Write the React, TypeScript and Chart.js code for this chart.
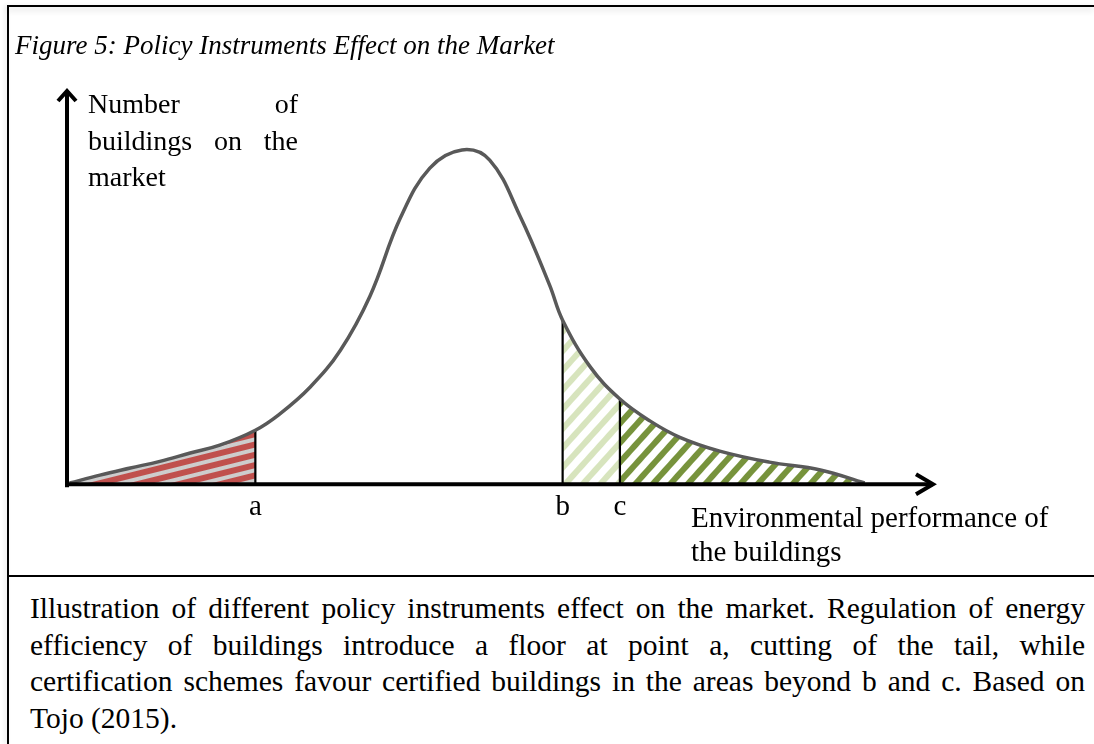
import React, { useEffect, useRef } from "react";
import { Chart, registerables } from "chart.js";

Chart.register(...registerables);

// ---- Data ----
// x: environmental performance (0..100 along the axis), y: number of buildings (0..100)
const curveX = [0.3, 3.8, 7.3, 10.7, 14.2, 17.6, 21.7, 24.5, 28.0, 31.5, 34.9, 38.4, 41.8, 45.5, 48.7, 52.2, 55.6, 57.1, 60.3, 63.7, 67.2, 70.6, 75.2, 80.9, 86.8, 91.9];
const curveY = [0.3, 2.3, 4.1, 5.8, 7.9, 9.9, 13.7, 17.8, 24.6, 34.0, 47.7, 67.5, 80.2, 84.8, 82.2, 68.0, 50.5, 41.6, 29.7, 21.6, 16.0, 11.9, 8.4, 5.6, 3.6, 0.3];

// thresholds a, b, c (index into the curve arrays)
const markerLabels = ["a", "b", "c"];
const markerIndex = [6, 17, 19];

const titleText = "Figure 5: Policy Instruments Effect on the Market";
const yLabelLines = ["Number of", "buildings on the", "market"];
const xLabelLines = ["Environmental performance of", "the buildings"];
const captionLines = [
  "Illustration of different policy instruments effect on the market. Regulation of energy",
  "efficiency of buildings introduce a floor at point a, cutting of the tail, while",
  "certification schemes favour certified buildings in the areas beyond b and c. Based on",
  "Tojo (2015).",
];

const SERIF = "'Liberation Serif', 'DejaVu Serif', serif";

function makeStripePattern(
  ctx: CanvasRenderingContext2D,
  stripe: string,
  bg: string,
  period: number,
  band: number,
  angle: number
): CanvasPattern | string {
  const tile = document.createElement("canvas");
  tile.width = 16;
  tile.height = period;
  const t = tile.getContext("2d")!;
  t.fillStyle = bg;
  t.fillRect(0, 0, tile.width, tile.height);
  t.fillStyle = stripe;
  t.fillRect(0, 0, tile.width, band);
  const p = ctx.createPattern(tile, "repeat");
  if (!p) return stripe;
  p.setTransform(new DOMMatrix().rotate(angle));
  return p;
}

const arrowPlugin = {
  id: "axisArrows",
  afterDatasetsDraw(chart: any) {
    const { ctx, chartArea, scales } = chart;
    const x0 = scales.x.getPixelForValue(0);
    const y0 = scales.y.getPixelForValue(0);
    ctx.save();
    ctx.strokeStyle = "#000";
    ctx.lineWidth = 4;
    ctx.lineJoin = "miter";
    ctx.lineCap = "butt";
    // y axis
    ctx.beginPath();
    ctx.moveTo(x0, y0 + 3);
    ctx.lineTo(x0, chartArea.top + 2);
    ctx.stroke();
    ctx.beginPath();
    ctx.moveTo(x0 - 9, chartArea.top + 11);
    ctx.lineTo(x0, chartArea.top + 1);
    ctx.lineTo(x0 + 9, chartArea.top + 11);
    ctx.stroke();
    // x axis
    ctx.beginPath();
    ctx.moveTo(x0 - 2, y0);
    ctx.lineTo(chartArea.right - 2, y0);
    ctx.stroke();
    ctx.beginPath();
    ctx.moveTo(chartArea.right - 19, y0 - 10);
    ctx.lineTo(chartArea.right - 2, y0);
    ctx.lineTo(chartArea.right - 19, y0 + 10);
    ctx.stroke();
    ctx.restore();
  },
};

function FigureChart() {
  const ref = useRef<HTMLCanvasElement | null>(null);
  useEffect(() => {
    const canvas = ref.current!;
    const ctx = canvas.getContext("2d")!;
    const pts = curveX.map((x, i) => ({ x, y: curveY[i] }));
    const redPat = makeStripePattern(ctx, "#c0504d", "#cdcdcd", 10, 6, -14);
    const lightPat = makeStripePattern(ctx, "#d7e4bd", "#ffffff", 13, 6, -48);
    const darkPat = makeStripePattern(ctx, "#77933c", "#ffffff", 13, 6, -48);

    const regionA = pts.slice(0, markerIndex[0] + 1);
    const regionB = pts.slice(markerIndex[1], markerIndex[2] + 1);
    const regionC = pts.slice(markerIndex[2]);

    const markerSets = markerIndex.map((idx) => ({
      type: "line" as const,
      data: [
        { x: curveX[idx], y: 0 },
        { x: curveX[idx], y: curveY[idx] },
      ],
      borderColor: "#000",
      borderWidth: 2.2,
      pointRadius: 0,
      fill: false,
      order: 1,
    }));

    const region = (data: any[], bg: any) => ({
      type: "line" as const,
      data,
      borderWidth: 0,
      borderColor: "rgba(0,0,0,0)",
      backgroundColor: bg,
      pointRadius: 0,
      fill: "origin",
      tension: 0.4,
      order: 3,
    });

    const chart = new Chart(ctx, {
      type: "line",
      data: {
        datasets: [
          {
            data: pts,
            borderColor: "#595959",
            borderWidth: 3.5,
            pointRadius: 0,
            fill: false,
            tension: 0.4,
            order: 0,
          },
          ...markerSets,
          region(regionA, redPat),
          region(regionB, lightPat),
          region(regionC, darkPat),
        ] as any,
      },
      options: {
        animation: false,
        responsive: false,
        events: [],
        layout: { padding: { left: 67, right: 159, top: 90, bottom: 44 } },
        plugins: { legend: { display: false }, tooltip: { enabled: false } },
        scales: {
          x: {
            type: "linear",
            min: 0,
            max: 100,
            grid: { display: false, drawTicks: false },
            border: { display: false },
            afterBuildTicks: (scale: any) => {
              scale.ticks = markerIndex.map((i) => ({ value: curveX[i] }));
            },
            ticks: {
              autoSkip: false,
              maxRotation: 0,
              padding: 6,
              color: "#000",
              font: { family: SERIF, size: 29 },
              callback: (v: any) => {
                const k = markerIndex.findIndex((i) => curveX[i] === v);
                return k >= 0 ? markerLabels[k] : "";
              },
            },
          },
          y: {
            type: "linear",
            min: 0,
            max: 100,
            display: false,
          },
        },
      },
      plugins: [arrowPlugin],
    });
    return () => chart.destroy();
  }, []);
  return (
    <canvas
      ref={ref}
      width={1094}
      height={575}
      style={{ position: "absolute", left: 0, top: 0, width: 1094, height: 575 }}
    />
  );
}

export default function App() {
  useEffect(() => {
    document.body.style.margin = "0";
  }, []);
  const justified: React.CSSProperties = {
    textAlign: "justify",
    textAlignLast: "justify",
    whiteSpace: "nowrap",
  };
  return (
    <div
      style={{
        position: "relative",
        width: 1094,
        height: 744,
        overflow: "hidden",
        background: "#fff",
        fontFamily: SERIF,
        color: "#000",
      }}
    >
      <FigureChart />
      {/* frame */}
      <div style={{ position: "absolute", left: 7, top: 5, width: 1087, height: 2, background: "#000", boxShadow: "0 3px 6px rgba(0,0,0,0.18)" }} />
      <div style={{ position: "absolute", left: 7, top: 5, width: 2, height: 739, background: "#000", boxShadow: "-2px 0 4px rgba(0,0,0,0.12)" }} />
      <div style={{ position: "absolute", left: 7, top: 575, width: 1087, height: 2, background: "#000" }} />

      <div style={{ position: "absolute", left: 15, top: 28, fontSize: 27, fontStyle: "italic", whiteSpace: "nowrap", lineHeight: "34px" }}>
        {titleText}
      </div>

      <div style={{ position: "absolute", left: 88, top: 86, width: 210, fontSize: 28, lineHeight: "36.5px" }}>
        {yLabelLines.map((l, i) => (
          <div key={i} style={i < yLabelLines.length - 1 ? justified : { whiteSpace: "nowrap" }}>
            {l}
          </div>
        ))}
      </div>

      <div style={{ position: "absolute", left: 691, top: 500, fontSize: 29, lineHeight: "34px", whiteSpace: "nowrap" }}>
        {xLabelLines.map((l, i) => (
          <div key={i}>{l}</div>
        ))}
      </div>

      <div style={{ position: "absolute", left: 30, top: 590, width: 1055, fontSize: 29.5, lineHeight: "36.5px" }}>
        {captionLines.map((l, i) => (
          <div key={i} style={i < captionLines.length - 1 ? justified : { whiteSpace: "nowrap" }}>
            {l}
          </div>
        ))}
      </div>
    </div>
  );
}
